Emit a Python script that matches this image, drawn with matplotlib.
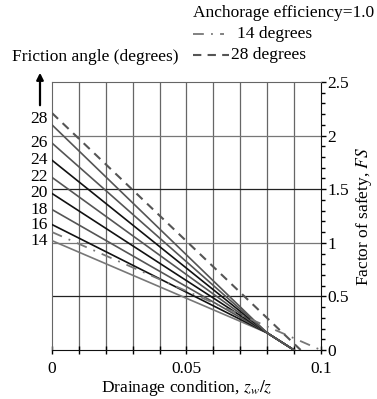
import matplotlib
matplotlib.use("Agg")
import matplotlib.pyplot as plt
from matplotlib.lines import Line2D
from matplotlib.ticker import MultipleLocator

plt.rcParams['font.family'] = ['Liberation Serif', 'DejaVu Serif']
plt.rcParams['mathtext.fontset'] = 'stix'

# solid lines: friction angle -> FS at z_w/z = 0
angles = [14, 16, 18, 20, 22, 24, 26, 28]
fs_start = [1.02, 1.17, 1.31, 1.46, 1.61, 1.77, 1.93, 2.10]
colors = ['#777777', '#111111', '#555555', '#111111', '#555555', '#111111', '#555555', '#555555']
# all solid lines meet near (0.08, 0.16) and end at (0.09, 0)
x_meet, fs_meet = 0.08, 0.16
x_end = 0.09

# anchorage efficiency = 1.0 lines
eff14_x = [0, 0.1]
eff14_fs = [1.10, 0.0]
eff28_x = [0, 0.0925]
eff28_fs = [2.21, 0.0]

fig = plt.figure(figsize=(3.77, 3.99), dpi=100)
ax = fig.add_axes([0.138, 0.1228, 0.713, 0.6717])

# grid
for xv in [0.01 * i for i in range(1, 10)]:
    ax.axvline(xv, color='#666666', lw=0.9, zorder=1)
for yv, c in [(0.5, '#222222'), (1.0, '#777777'), (1.5, '#222222'), (2.0, '#777777')]:
    ax.axhline(yv, color=c, lw=0.9, zorder=1)

for a, f0, c in zip(angles, fs_start, colors):
    ax.plot([0, x_meet, x_end], [f0, fs_meet, 0], color=c, lw=1.2, zorder=3)
    # the 28 label sits between the solid and the dashed 28-degree line
    ly = (f0 + eff28_fs[0]) / 2 if a == 28 else f0
    ax.text(-0.0015, ly, str(a), ha='right', va='center', fontsize=12.5)

l14, = ax.plot(eff14_x, eff14_fs, color='#777777', lw=1.3, dashes=(6, 4, 1, 4), zorder=3)
l28, = ax.plot(eff28_x, eff28_fs, color='#555555', lw=1.5, dashes=(4, 3), zorder=3)

ax.set_xlim(0, 0.1)
ax.set_ylim(0, 2.5)
ax.set_xticks([0, 0.05, 0.1])
ax.set_xticklabels(['0', '0.05', '0.1'])
ax.xaxis.set_minor_locator(MultipleLocator(0.01))
ax.tick_params(axis='x', which='both', direction='inout', length=6, width=1, labelsize=12.5, pad=5)
ax.yaxis.tick_right()
ax.yaxis.set_label_position('right')
ax.set_yticks([0, 0.5, 1, 1.5, 2, 2.5])
ax.set_yticklabels(['0', '0.5', '1', '1.5', '2', '2.5'])
ax.yaxis.set_minor_locator(MultipleLocator(0.1))
ax.tick_params(axis='y', which='major', direction='out', length=3.5, width=1, labelsize=12.5, pad=1)
ax.tick_params(axis='y', which='minor', direction='out', length=3, width=1)
for s in ['left', 'top']:
    ax.spines[s].set_color('#666666')
ax.spines['bottom'].set_color('#111111')
ax.spines['right'].set_color('#111111')

ax.set_xlabel('Drainage condition, $z_w/z$', fontsize=12.5, labelpad=0.5)
ax.set_ylabel('Factor of safety, $FS$', fontsize=12.5, labelpad=4)

# friction angle annotation with arrow
fig.text(12 / 377, 1 - 57 / 399, 'Friction angle (degrees)', fontsize=12.5, va='center', ha='left')
ax.annotate('', xy=(40 / 377, 1 - 70 / 399), xytext=(40 / 377, 1 - 108 / 399),
            xycoords='figure fraction', textcoords='figure fraction',
            arrowprops=dict(arrowstyle='-|>', color='black', lw=1.6, mutation_scale=10))

fig.text(193 / 377, 1 - 13 / 399, 'Anchorage efficiency=1.0', fontsize=12.5, va='center', ha='left')
fig.add_artist(Line2D([193 / 377, 224 / 377], [1 - 34 / 399] * 2, color='#777777', lw=1.3, dashes=(6, 4, 1, 4)))
fig.text(237 / 377, 1 - 34 / 399, '14 degrees', fontsize=12.5, va='center', ha='left')
fig.add_artist(Line2D([193 / 377, 229 / 377], [1 - 55 / 399] * 2, color='#555555', lw=1.5, dashes=(4, 3)))
fig.text(231 / 377, 1 - 55 / 399, '28 degrees', fontsize=12.5, va='center', ha='left')

fig.savefig('out.png', dpi=100)
